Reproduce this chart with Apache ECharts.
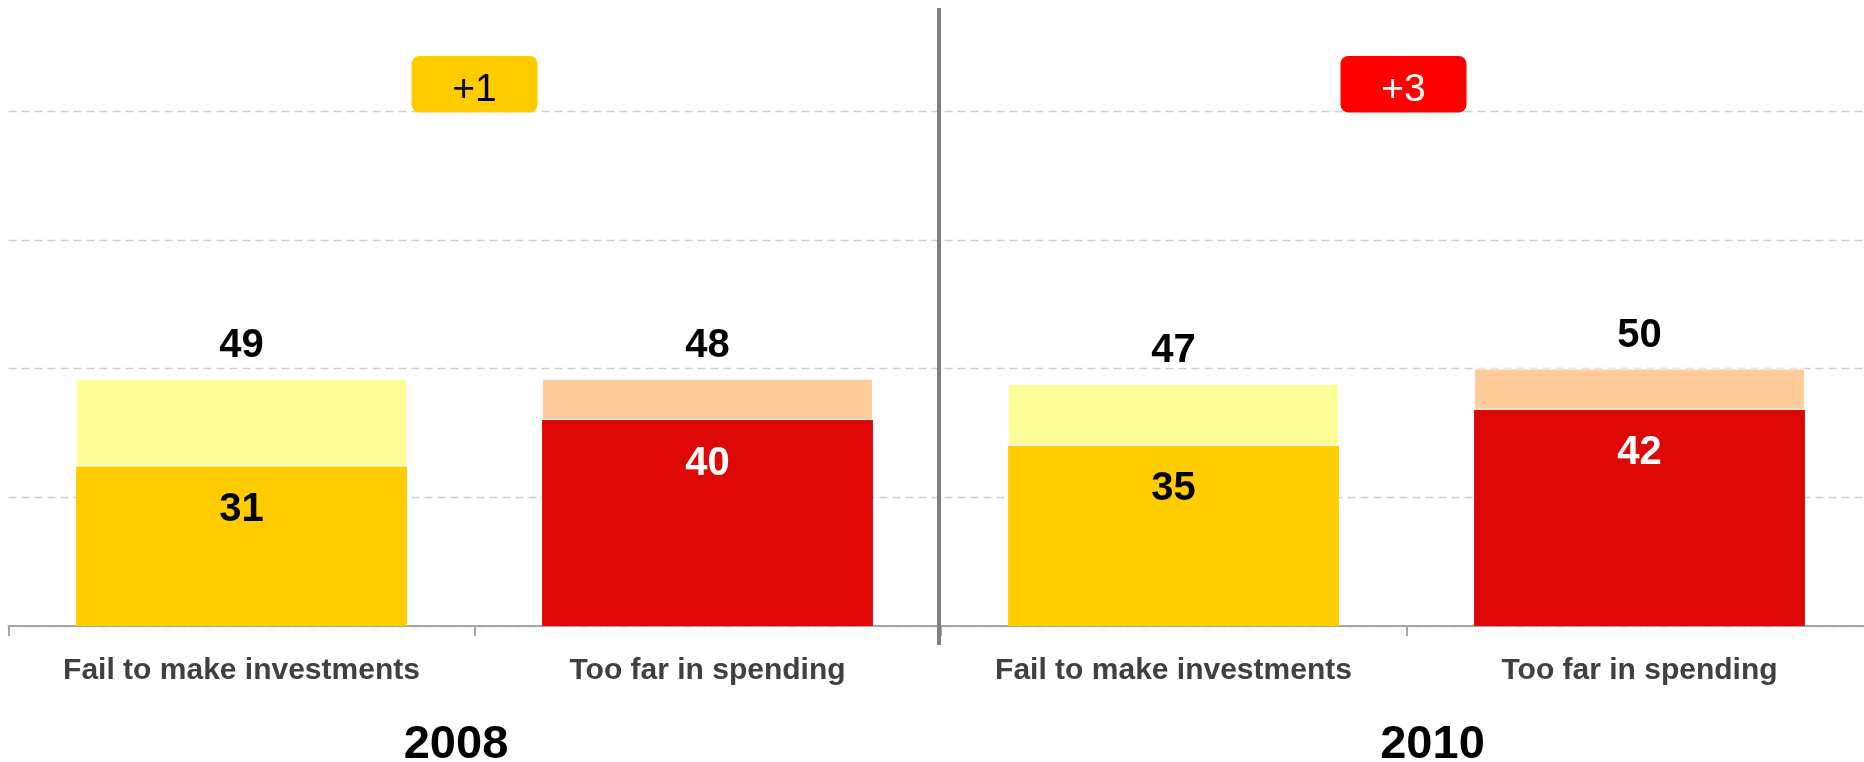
<!DOCTYPE html>
<html>
<head>
<meta charset="utf-8">
<script src="https://cdn.jsdelivr.net/npm/echarts@6/dist/echarts.min.js"></script>
<style>
  html, body { margin: 0; padding: 0; background: #fff; }
  #chart { width: 1864px; height: 762px; }
</style>
</head>
<body>
<div id="chart"></div>
<script>
// ---- data ----
const years = ['2008', '2010'];
const categories = ['Fail to make investments', 'Too far in spending', 'Fail to make investments', 'Too far in spending'];
const baseValues = [31, 40, 35, 42];
const extraValues = [17, 8, 12, 8];
const totalLabels = [49, 48, 47, 50];
const changeLabels = ['+1', '+3'];
const yTicks = [0, 25, 50, 75, 100];

// ---- styles ----
const FONT = "'Liberation Sans', Arial, Helvetica, sans-serif";
const darkColors = ['#FFCC00', '#DD0806'];
const lightColors = ['#FFFF99', '#FFCC99'];
const badgeColors = ['#FFCC00', '#FF0000'];
const badgeText = ['#000000', '#FFFFFF'];

const chart = echarts.init(document.getElementById('chart'), null, { renderer: 'canvas' });

const option = {
  animation: false,
  backgroundColor: '#ffffff',
  grid: { left: 8.5, top: 111, width: 1864, height: 515, containLabel: false, outerBoundsMode: 'none' },
  xAxis: {
    type: 'category',
    data: categories,
    axisLine: { show: true, lineStyle: { color: '#a6a6a6', width: 2 } },
    axisTick: { show: true, interval: 0, length: 10, lineStyle: { color: '#a6a6a6', width: 2 } },
    axisLabel: {
      interval: 0, margin: 29.5, hideOverlap: false,
      fontFamily: FONT, fontSize: 30, fontWeight: 'bold', color: '#404040'
    }
  },
  yAxis: {
    type: 'value',
    min: yTicks[0], max: yTicks[yTicks.length - 1], interval: yTicks[1] - yTicks[0],
    axisLine: { show: false }, axisTick: { show: false }, axisLabel: { show: false },
    splitLine: { show: true, lineStyle: { color: '#cfcfcf', width: 1.3, type: [8, 5] } }
  },
  series: [
    {
      type: 'bar', stack: 'total', barWidth: '71%',
      data: baseValues.map((v, i) => ({
        value: v,
        itemStyle: { color: darkColors[i % 2] },
        label: { color: i % 2 ? '#ffffff' : '#000000' }
      })),
      label: {
        show: true, position: 'insideTop', distance: 23.5,
        fontFamily: FONT, fontSize: 40, fontWeight: 'bold'
      }
    },
    {
      type: 'bar', stack: 'total', barWidth: '71%',
      data: extraValues.map((v, i) => ({
        value: v,
        itemStyle: { color: lightColors[i % 2] }
      })),
      itemStyle: { borderColor: '#ffffff', borderWidth: 1 },
      label: {
        show: true, position: 'top', distance: 12.5,
        fontFamily: FONT, fontSize: 40, fontWeight: 'bold', color: '#000000',
        formatter: p => String(totalLabels[p.dataIndex])
      }
    }
  ]
};
chart.setOption(option);

// ---- annotations positioned from the axis ----
const px = i => chart.convertToPixel({ seriesIndex: 0 }, [i, 0]);
const graphics = [];
const groupCenters = years.map((y, g) => (px(2 * g)[0] + px(2 * g + 1)[0]) / 2);
const divX = (px(1)[0] + px(2)[0]) / 2 - 1.5;

graphics.push({
  type: 'line', silent: true, z: 100,
  shape: { x1: divX, y1: 8, x2: divX, y2: 645 },
  style: { stroke: '#808080', lineWidth: 4 }
});

const yearOffsets = [-18.5, 26];
const badgeOffsets = [0, -3];
years.forEach((y, g) => {
  const cx = groupCenters[g] + badgeOffsets[g];
  graphics.push({
    type: 'rect', z: 50,
    shape: { x: cx - 63, y: 56, width: 126, height: 56.5, r: 8 },
    style: { fill: badgeColors[g] }
  });
  graphics.push({
    type: 'text', z: 51,
    style: {
      text: changeLabels[g], x: cx, y: 90.5,
      align: 'center', verticalAlign: 'middle',
      font: '39px ' + FONT, fill: badgeText[g]
    }
  });
  graphics.push({
    type: 'text', z: 51,
    style: {
      text: y, x: groupCenters[g] + yearOffsets[g], y: 745.5,
      align: 'center', verticalAlign: 'middle',
      font: 'bold 47px ' + FONT, fill: '#000000'
    }
  });
});

chart.setOption({ graphic: graphics });
</script>
</body>
</html>
